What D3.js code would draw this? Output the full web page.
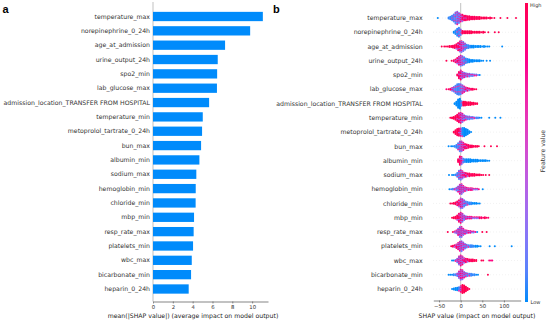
<!DOCTYPE html>
<html>
<head>
<meta charset="utf-8">
<script src="https://cdn.jsdelivr.net/npm/d3@7"></script>
<style>
body { margin: 0; background: #fff; }
svg { display: block; font-family: 'DejaVu Sans', sans-serif; }
</style>
</head>
<body>
<div id="chart"></div>
<script>
// feature names, top to bottom
var features = ["temperature_max", "norepinephrine_0_24h", "age_at_admission", "urine_output_24h",
    "spo2_min", "lab_glucose_max", "admission_location_TRANSFER FROM HOSPITAL", "temperature_min",
    "metoprolol_tartrate_0_24h", "bun_max", "albumin_min", "sodium_max", "hemoglobin_min",
    "chloride_min", "mbp_min", "resp_rate_max", "platelets_min", "wbc_max", "bicarbonate_min",
    "heparin_0_24h"];

// panel a: mean(|SHAP value|)
var meanAbsShap = [11.08, 9.8, 7.27, 6.53, 6.47, 6.45, 5.66, 5.02, 4.95, 4.85,
    4.68, 4.37, 4.31, 4.30, 4.14, 4.10, 4.04, 3.91, 3.84, 3.60];

var barTicks = [0, 2, 4, 6, 8, 10];
var swarmTicks = [-50, 0, 50, 100];

// panel b: beeswarm columns, per feature
// [shap value, dots stacked in the column, share of high feature values]
var swarm = [
  [[-53,1,0],[-28,2,0.1],[-24,4,0.1],[-20,6,0.15],[-16,9,0.2],[-12,13,0.25],[-8,15,0.3],[-4,12,0.35],[0,9,0.5],
   [4,8,0.8],[8,6,0.85],[12,6,0.85],[16,5,0.9],[20,5,0.9],[24,4,0.9],[28,4,0.9],[32,4,0.95],[36,3,0.95],
   [40,3,0.95],[44,3,1],[48,2,1],[52,2,1],[56,2,1],[60,2,1],[64,1,1],[68,2,1],[72,1,1],[78,1,1],
   [92,1,1],[108,1,1],[128,1,1]],
  [[-16,2,0],[-12,5,0.05],[-8,9,0.1],[-4,11,0.15],[0,7,0.3],[4,4,0.9],[8,3,0.95],[12,3,1],[16,3,1],
   [20,3,1],[24,3,1],[28,2,1],[32,2,1],[36,2,1],[40,2,1],[44,2,1],[48,1,1],[52,2,1],[56,1,1],
   [64,1,1],[79,1,1],[88,1,1]],
  [[-44,1,1],[-38,1,1],[-34,1,1],[-30,1,1],[-26,2,1],[-22,2,1],[-18,3,0.95],[-14,4,0.9],[-10,6,0.9],
   [-6,9,0.8],[-2,12,0.7],[2,13,0.55],[6,11,0.4],[10,8,0.25],[14,5,0.15],[18,4,0.1],[22,3,0.05],
   [26,3,0],[30,3,0],[34,2,0],[38,2,0],[42,2,0],[46,2,0],[50,1,0],[54,2,0],[58,1,0],[62,1,0],
   [66,1,0],[96,1,0]],
  [[-33,1,1],[-21,1,1],[-16,2,0.8],[-12,4,0.8],[-8,7,0.75],[-4,10,0.6],[0,12,0.5],[4,11,0.35],
   [8,9,0.2],[12,6,0.1],[16,5,0.05],[20,4,0],[24,3,0],[28,3,0],[32,2,0],[36,2,0],[40,2,0],
   [44,2,0],[48,1,0],[52,1,0],[60,1,0],[68,1,0]],
  [[-8,2,0.9],[-4,8,0.85],[0,11,0.7],[4,8,0.5],[8,6,0.45],[12,5,0.4],[16,4,0.4],[20,4,0.35],
   [24,3,0.35],[28,3,0.3],[32,2,0.3],[36,2,0.3],[40,1,0.3],[44,1,0]],
  [[-33,1,0.6],[-28,1,1],[-24,2,0.8],[-20,4,0.5],[-16,6,0.3],[-12,9,0.2],[-8,12,0.15],[-4,13,0.15],
   [0,12,0.25],[4,10,0.35],[8,7,0.5],[12,5,0.65],[16,4,0.75],[20,3,0.8],[24,2,0.85],[28,2,0.9],
   [32,1,1],[36,1,1]],
  [[-14,2,0],[-10,5,0],[-6,10,0],[-2,12,0],[2,6,0.2],[6,5,1],[10,5,1],[14,4,1],[18,4,1],[22,4,1],
   [26,3,1],[30,3,1],[34,2,1],[38,2,1]],
  [[-24,1,1],[-20,2,1],[-16,3,1],[-12,5,0.95],[-8,8,0.9],[-4,11,0.8],[0,12,0.65],[4,10,0.5],
   [8,7,0.4],[12,5,0.35],[16,4,0.3],[20,4,0.3],[24,3,0.25],[28,3,0.3],[32,2,0.3],[36,2,0.2],
   [40,2,0.2],[44,1,0],[48,1,0],[66,1,0],[80,1,0],[92,1,0]],
  [[-16,2,1],[-12,5,1],[-8,8,0.95],[-4,9,0.9],[0,9,0.5],[4,10,0.05],[8,10,0],[12,8,0],[16,6,0],
   [20,3,0],[24,1,0]],
  [[-28,1,0],[-22,1,0],[-18,1,0],[-14,2,0.1],[-10,4,0.1],[-6,8,0.2],[-2,12,0.35],[2,12,0.5],
   [6,9,0.65],[10,6,0.8],[14,5,0.85],[18,4,0.9],[22,3,0.9],[26,3,0.95],[30,2,1],[34,2,1],
   [38,2,1],[42,1,1],[55,1,1],[70,1,1],[84,1,1]],
  [[-6,4,0.9],[-2,10,0.85],[2,9,0.6],[6,5,0.2],[10,4,0.05],[14,4,0],[18,4,0],[22,4,0],[26,3,0],
   [30,3,0],[34,3,0],[38,3,0],[42,2,0],[46,2,0],[50,2,0],[54,2,0],[58,2,0],[62,1,0],[66,1,0]],
  [[-27,1,0],[-20,1,0],[-16,1,0],[-12,2,0.1],[-8,5,0.15],[-4,10,0.3],[0,12,0.45],[4,9,0.6],
   [8,6,0.7],[12,5,0.8],[16,4,0.85],[20,4,0.9],[24,3,0.9],[28,3,0.95],[32,3,1],[36,2,1],
   [40,2,1],[44,2,1],[48,1,1],[52,1,1],[58,1,1],[66,1,1]],
  [[-26,1,0],[-22,1,0.1],[-18,2,0.2],[-14,2,0.3],[-10,4,0.35],[-6,7,0.4],[-2,11,0.5],[2,12,0.5],
   [6,8,0.5],[10,5,0.55],[14,4,0.6],[18,3,0.6],[22,3,0.6],[26,3,0.6],[30,2,0.7],[34,2,0.6],
   [38,2,0.6],[42,1,0.5],[51,1,0]],
  [[-24,1,1],[-20,1,1],[-16,2,1],[-12,3,0.9],[-8,5,0.85],[-4,8,0.8],[0,12,0.6],[4,11,0.45],
   [8,8,0.3],[12,5,0.2],[16,4,0.15],[20,3,0.1],[24,3,0.1],[28,2,0],[32,2,0],[36,2,0],[40,1,0],[44,1,0]],
  [[-20,1,1],[-16,2,1],[-12,3,1],[-8,6,0.9],[-4,10,0.8],[0,12,0.65],[4,10,0.5],[8,6,0.4],
   [12,4,0.4],[16,3,0.5],[20,3,0.5],[24,3,0.6],[28,2,0.6],[32,2,0.7],[36,2,0.7],[40,2,0.7],
   [44,2,0.8],[48,2,0.8],[52,1,0.8],[56,2,0.9],[60,1,1],[64,1,0.7]],
  [[-30,1,1],[-18,1,1],[-14,2,0.7],[-10,4,0.5],[-6,8,0.45],[-2,12,0.45],[2,12,0.5],[6,8,0.5],
   [10,5,0.5],[14,4,0.5],[18,3,0.55],[22,3,0.5],[26,2,0.6],[30,2,0.5],[34,1,0.5],[38,1,0],
   [50,1,1],[60,1,1]],
  [[-22,1,1],[-18,2,1],[-14,3,0.8],[-10,5,0.7],[-6,8,0.6],[-2,11,0.5],[2,12,0.45],[6,9,0.4],
   [10,6,0.3],[14,4,0.25],[18,3,0.2],[22,3,0.15],[26,3,0.1],[30,2,0.1],[34,2,0],[38,2,0],
   [42,1,0],[46,1,0],[67,1,0],[79,1,0],[118,1,0]],
  [[-20,1,0],[-16,1,0],[-12,2,0.3],[-8,5,0.4],[-4,10,0.5],[0,12,0.55],[4,10,0.6],[8,6,0.7],
   [12,5,0.8],[16,4,0.85],[20,3,0.9],[24,3,0.9],[28,3,0.95],[32,2,1],[36,2,1],[48,1,1],[52,1,1],
   [66,1,0.6],[70,1,0.6],[73,1,0.6]],
  [[-28,1,0],[-24,1,0],[-20,1,0],[-16,2,0.1],[-12,2,0.2],[-8,4,0.3],[-4,8,0.5],[0,12,0.6],
   [4,11,0.55],[8,7,0.4],[12,5,0.3],[16,4,0.25],[20,3,0.2],[24,3,0.15],[28,2,0.1],[32,2,0.1],
   [36,1,0],[40,1,0],[63,1,1]],
  [[-20,1,0],[-16,2,0],[-12,3,0],[-8,4,0],[-4,5,0.1],[0,7,0.5],[4,10,1],[8,9,1],[12,6,1],
   [16,3,1],[20,1,1]]
];

var W = 550, H = 323;
var svg = d3.select("#chart").append("svg").attr("width", W).attr("height", H);

var txt = "#333333", fs = 6.2;

// ---------- panel a ----------
var xa = d3.scaleLinear().domain([0, 11.6]).range([153, 268]);
var ya = d3.scalePoint().domain(features).range([16.5, 289]);
var axisYa = 301.5;

svg.append("line")
    .attr("x1", xa(0)).attr("x2", xa(0)).attr("y1", 2).attr("y2", axisYa)
    .attr("stroke", "#999").attr("stroke-width", 0.6);

svg.append("g").selectAll("rect")
    .data(features)
    .enter().append("rect")
    .attr("x", xa(0))
    .attr("y", function(d) { return ya(d) - 4.65; })
    .attr("width", function(d, i) { return xa(meanAbsShap[i]) - xa(0); })
    .attr("height", 9.3)
    .attr("fill", "#008bfb");

svg.append("g").selectAll("text")
    .data(features)
    .enter().append("text")
    .attr("x", 150)
    .attr("y", function(d) { return ya(d); })
    .attr("dy", "0.35em")
    .attr("text-anchor", "end")
    .attr("font-size", fs)
    .attr("fill", txt)
    .text(function(d) { return d; });

var gxa = svg.append("g")
    .attr("transform", "translate(0," + axisYa + ")")
    .call(d3.axisBottom(xa).tickValues(barTicks).tickSize(2).tickSizeOuter(0).tickPadding(1.5));

svg.append("text")
    .attr("x", 193).attr("y", 318)
    .attr("text-anchor", "middle")
    .attr("font-size", fs)
    .attr("fill", "#222")
    .text("mean(|SHAP value|) (average impact on model output)");

// ---------- panel b ----------
var xb = d3.scaleLinear().domain([-63.4, 138.9]).range([433.3, 520.7]);
var yb = d3.scalePoint().domain(features).range([18, 289]);
var axisYb = 300.5;
var color = d3.interpolateHcl("#008bfb", "#ff0052");

// dotted row guides
svg.append("g").selectAll("line")
    .data(features)
    .enter().append("line")
    .attr("x1", 433.3).attr("x2", 520.7)
    .attr("y1", function(d) { return yb(d); })
    .attr("y2", function(d) { return yb(d); })
    .attr("stroke", "#ccc").attr("stroke-width", 0.5)
    .attr("stroke-dasharray", "0.5,2.5");

svg.append("line")
    .attr("x1", xb(0)).attr("x2", xb(0)).attr("y1", 3).attr("y2", axisYb)
    .attr("stroke", "#999").attr("stroke-width", 0.6);

// flatten columns into dots
var dy = 0.9;
var dots = [];
swarm.forEach(function(cols, i) {
    cols.forEach(function(c) {
        var n = c[1], p = c[2];
        for (var k = 0; k < n; k++) {
            var high = Math.floor((k + 1) * p + 0.5) > Math.floor(k * p + 0.5);
            dots.push({
                x: xb(c[0]),
                y: yb(features[i]) + (k - (n - 1) / 2) * dy,
                c: high ? color(0.6 + p * 0.4) : color(p * 0.4)
            });
        }
    });
});

svg.append("g").selectAll("circle")
    .data(dots)
    .enter().append("circle")
    .attr("cx", function(d) { return d.x; })
    .attr("cy", function(d) { return d.y; })
    .attr("r", 1.0)
    .attr("fill", function(d) { return d.c; });

svg.append("g").selectAll("text")
    .data(features)
    .enter().append("text")
    .attr("x", 422.7)
    .attr("y", function(d) { return yb(d); })
    .attr("dy", "0.35em")
    .attr("text-anchor", "end")
    .attr("font-size", fs)
    .attr("fill", txt)
    .text(function(d) { return d; });

var gxb = svg.append("g")
    .attr("transform", "translate(0," + axisYb + ")")
    .call(d3.axisBottom(xb).tickValues(swarmTicks).tickSize(2).tickSizeOuter(0).tickPadding(1.5));

svg.append("text")
    .attr("x", 477).attr("y", 318)
    .attr("text-anchor", "middle")
    .attr("font-size", fs)
    .attr("fill", "#222")
    .text("SHAP value (impact on model output)");

[gxa, gxb].forEach(function(g) {
    g.select(".domain").attr("stroke", "#333").attr("stroke-width", 0.6);
    g.selectAll(".tick line").attr("stroke", "#333").attr("stroke-width", 0.5);
    g.selectAll(".tick text").attr("font-size", 5.3).attr("fill", txt)
        .attr("font-family", "'DejaVu Sans', sans-serif");
});

// colorbar
var grad = svg.append("defs").append("linearGradient")
    .attr("id", "cbar").attr("x1", 0).attr("x2", 0).attr("y1", 1).attr("y2", 0);
d3.range(0, 1.001, 0.1).forEach(function(t) {
    grad.append("stop").attr("offset", t).attr("stop-color", color(t));
});
svg.append("rect")
    .attr("x", 525).attr("y", 3).attr("width", 3).attr("height", 299)
    .attr("fill", "url(#cbar)");
svg.append("text").attr("x", 530).attr("y", 7).attr("font-size", 5).attr("fill", txt).text("High");
svg.append("text").attr("x", 530.5).attr("y", 304).attr("font-size", 5).attr("fill", txt).text("Low");
svg.append("text")
    .attr("transform", "translate(545,151) rotate(-90)")
    .attr("text-anchor", "middle")
    .attr("font-size", fs)
    .attr("fill", txt)
    .text("Feature value");

// panel letters
svg.append("text").attr("x", 2.5).attr("y", 13).attr("font-size", 11).attr("font-weight", "bold")
    .attr("font-family", "'Liberation Sans', Arial, sans-serif").text("a");
svg.append("text").attr("x", 273).attr("y", 13).attr("font-size", 11).attr("font-weight", "bold")
    .attr("font-family", "'Liberation Sans', Arial, sans-serif").text("b");
</script>
</body>
</html>
